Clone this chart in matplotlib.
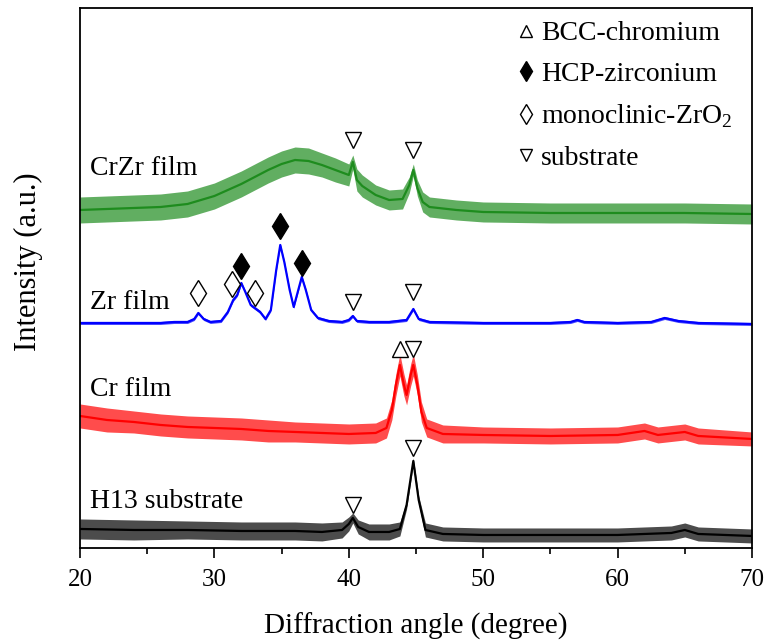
import matplotlib
matplotlib.use('Agg')
import matplotlib.pyplot as plt
from matplotlib.lines import Line2D
from matplotlib.ticker import MultipleLocator

plt.rcParams['font.family'] = ['Liberation Serif', 'DejaVu Serif']
plt.rcParams['mathtext.fontset'] = 'custom'
plt.rcParams['mathtext.rm'] = 'Liberation Serif'

# intensities (arbitrary units, 0 = bottom of frame)
# each trace: angle, mean level, half width of the noise band
crzr_ang = [20, 22, 24, 26, 28, 30, 32, 33, 34, 35, 36, 37, 38, 39, 40, 40.3, 40.6,
            41, 42, 43, 44, 44.5, 44.8, 45.1, 45.5, 46, 48, 50, 55, 60, 65, 70]
crzr_int = [338, 339, 340, 341, 344, 352, 364, 371, 378, 384, 388, 387, 383, 378, 373,
            386, 368, 362, 353, 348, 349, 363, 378, 360, 346, 341, 338, 336, 335, 335, 335, 334]
crzr_noise = [13, 13, 13, 13, 13, 13, 13, 13, 13, 13, 13, 13, 12, 12, 11, 7, 11,
              11, 10, 10, 10, 8, 6, 8, 10, 10, 10, 10, 10, 10, 10, 10]

zr_ang = [20, 22, 24, 26, 27, 28, 28.5, 28.8, 29.2, 29.7, 30.5, 31.0, 31.4, 31.7, 32.0,
          32.3, 32.7, 33.0, 33.4, 33.8, 34.2, 34.6, 34.9, 35.2, 35.6, 35.9, 36.2, 36.5,
          36.8, 37.2, 37.7, 38.5, 39.5, 40.0, 40.3, 40.6, 41.5, 43, 44.3, 44.8, 45.2, 46,
          50, 55, 56.5, 57, 57.5, 60, 62.5, 63.5, 64.5, 66, 70]
zr_int = [225, 225, 225, 225, 226, 226, 229, 235, 229, 226, 227, 236, 248, 253, 265,
          256, 243, 240, 236, 229, 238, 278, 303, 286, 258, 241, 256, 271,
          258, 238, 230, 227, 226, 228, 232, 227, 226, 226, 228, 239, 229, 226,
          225, 225, 226, 228, 226, 225, 226, 230, 227, 225, 224]
zr_noise = [1.5] * len(zr_ang)

cr_ang = [20, 22, 24, 26, 28, 30, 32, 34, 36, 38, 40, 42, 42.8, 43.2, 43.5, 43.8, 44.1,
          44.3, 44.6, 44.8, 45.1, 45.4, 45.8, 47, 50, 55, 60, 62, 63, 65, 66, 70]
cr_int = [132, 128, 126, 123, 121, 120, 119, 117, 116, 115, 114, 115, 120, 138, 163, 183,
          163, 153, 173, 183, 163, 136, 120, 114, 113, 112, 113, 117, 113, 116, 112, 109]
cr_noise = [12, 12, 11, 11, 11, 11, 11, 11, 10, 10, 10, 10, 10, 10, 11, 11, 11,
            10, 11, 11, 10, 10, 9, 9, 8, 8, 8, 8, 8, 8, 8, 7]

h13_ang = [20, 24, 28, 32, 36, 38, 39.5, 40.0, 40.3, 40.7, 41.5, 43.0, 43.8, 44.3, 44.8,
           45.2, 45.7, 47, 50, 55, 60, 64, 65, 66, 70]
h13_int = [19, 18, 18, 17, 17, 16, 18, 24, 30, 21, 16, 16, 19, 43, 87,
           48, 18, 14, 13, 13, 13, 15, 18, 14, 12]
h13_noise = [10, 10, 9, 9, 9, 9, 8, 7, 5, 7, 8, 8, 7, 4, 3,
             4, 7, 7, 7, 7, 7, 7, 7, 7, 7]

traces = [('CrZr film', crzr_ang, crzr_int, crzr_noise, '#1e8c1e'),
          ('Zr film', zr_ang, zr_int, zr_noise, '#0000ff'),
          ('Cr film', cr_ang, cr_int, cr_noise, '#ff0000'),
          ('H13 substrate', h13_ang, h13_int, h13_noise, '#000000')]
trace_label_y = [379, 245, 158, 46]

# phase marks above the peaks
sub_ang = [40.3, 44.8, 40.3, 44.8, 44.8, 40.3, 44.8]
sub_y = [408, 398, 246, 256, 199, 43, 100]
bcc_ang = [43.8]
bcc_y = [199]
hcp_ang = [32.0, 34.9, 36.5]
hcp_y = [282, 322, 285]
mono_ang = [28.8, 31.3, 33.0]
mono_y = [255, 264, 255]

fig = plt.figure(figsize=(7.65, 6.4), dpi=100)
ax = fig.add_axes([0.1046, 0.1438, 0.8784, 0.8437])

for name, ang, inten, noise, col in traces:
    lo = [v - n for v, n in zip(inten, noise)]
    hi = [v + n for v, n in zip(inten, noise)]
    ax.fill_between(ang, lo, hi, color=col, alpha=0.7, lw=0)
    ax.plot(ang, inten, color=col, lw=1.6)

for (name, *_), ly in zip(traces, trace_label_y):
    ax.text(20.75, ly, name, fontsize=20, va='center', ha='left')

ax.plot(sub_ang, sub_y, ls='none', marker='v', ms=11, mfc='white', mec='k', mew=1.0)
ax.plot(bcc_ang, bcc_y, ls='none', marker='^', ms=11, mfc='white', mec='k', mew=1.0)
ax.plot(hcp_ang, hcp_y, ls='none', marker='d', ms=13, mfc='k', mec='k', mew=1.0)
ax.plot(mono_ang, mono_y, ls='none', marker='d', ms=13, mfc='white', mec='k', mew=1.0)

handles = [Line2D([], [], ls='none', marker='^', ms=8, mfc='white', mec='k'),
           Line2D([], [], ls='none', marker='d', ms=10, mfc='k', mec='k'),
           Line2D([], [], ls='none', marker='d', ms=10, mfc='white', mec='k'),
           Line2D([], [], ls='none', marker='v', ms=8, mfc='white', mec='k')]
labels = ['BCC-chromium', 'HCP-zirconium', 'monoclinic-ZrO$_2$', 'substrate']
leg = ax.legend(handles, labels, loc='upper right', frameon=False, fontsize=20,
                handlelength=0.5, handletextpad=0.3, labelspacing=0.55,
                borderpad=0.2, borderaxespad=0.5, bbox_to_anchor=(1.0, 1.012))

ax.set_xlim(20, 70)
ax.set_ylim(0, 540)
ax.set_yticks([])
ax.xaxis.set_major_locator(MultipleLocator(10))
ax.xaxis.set_minor_locator(MultipleLocator(5))
ax.tick_params(axis='x', which='major', direction='out', length=7, width=1.2,
               labelsize=18, pad=8, top=False)
ax.tick_params(axis='x', which='minor', direction='out', length=4, width=1.2, top=False)
for sp in ax.spines.values():
    sp.set_linewidth(1.3)

ax.set_xlabel('Diffraction angle (degree)', fontsize=21, labelpad=16)
ax.set_ylabel('Intensity (a.u.)', fontsize=22)
ax.yaxis.set_label_coords(-0.055, 0.531)

fig.savefig('out.png', dpi=100)
